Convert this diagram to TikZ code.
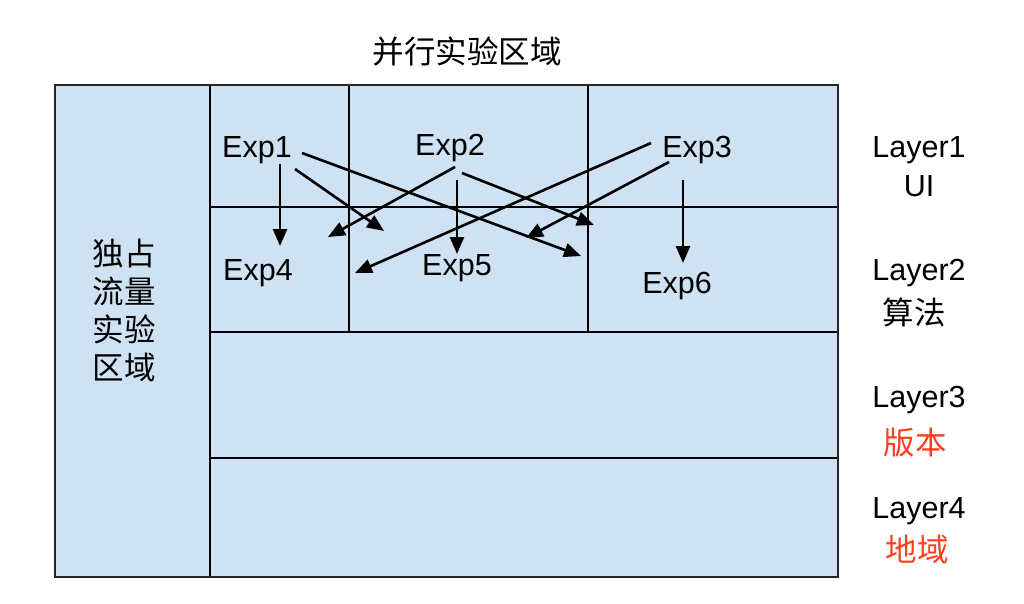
\documentclass[tikz,border=0pt]{standalone}
\usepackage{fontspec}
\setmainfont{Liberation Sans}
\newfontfamily\cjk{Noto Sans CJK SC}
\usetikzlibrary{arrows.meta}
\definecolor{cellblue}{RGB}{207,226,243}
\definecolor{tagred}{RGB}{255,62,30}
\begin{document}
\begin{tikzpicture}[x=1pt,y=-1pt,
  grid/.style={line width=2.6pt,draw=black},
  lbl/.style={inner sep=0pt,font=\fontsize{30.5}{36}\selectfont},
  zh/.style={inner sep=0pt,font=\cjk\fontsize{31.5}{38}\selectfont},
  arr/.style={line width=2.6pt,-{Triangle[length=17pt,width=14pt]}}]
\useasboundingbox (0,0) rectangle (1024,603);
% boxes
\fill[cellblue] (55,85) rectangle (838,577);
\draw[grid] (210,85) -- (210,577);
\draw[grid] (210,207) -- (838,207);
\draw[grid] (210,332) -- (838,332);
\draw[grid] (210,458) -- (838,458);
\draw[grid] (349,85) -- (349,332);
\draw[grid] (588,85) -- (588,332);
\draw[grid,draw=black!85] (55,85) rectangle (838,577);
% titles
\node[zh] (title) at (467,52) {并行实验区域};
\node[zh,align=center] (excl) at (124,311) {独占\\流量\\实验\\区域};
% layer labels
\node[lbl] (l1) at (919,150) {Layer1};
\node[lbl] (l1b) at (919,186) {UI};
\node[lbl] (l2) at (919,273) {Layer2};
\node[zh] (l2b) at (914,312) {算法};
\node[lbl] (l3) at (919,400) {Layer3};
\node[zh,text=tagred] (l3b) at (915,443) {版本};
\node[lbl] (l4) at (919,511) {Layer4};
\node[zh,text=tagred] (l4b) at (917,550) {地域};
% experiments
\node[lbl] (e1) at (257,150) {Exp1};
\node[lbl] (e2) at (450,148) {Exp2};
\node[lbl] (e3) at (697,150) {Exp3};
\node[lbl] (e4) at (258,273) {Exp4};
\node[lbl] (e5) at (457,268) {Exp5};
\node[lbl] (e6) at (677,286) {Exp6};
% arrow end points
\coordinate (e1a) at (280,164);
\coordinate (e1b) at (295,169);
\coordinate (e1c) at (302,153);
\coordinate (e2a) at (457,180);
\coordinate (e2b) at (455,167);
\coordinate (e2c) at (462,173);
\coordinate (e3a) at (651,143);
\coordinate (e3b) at (669,162);
\coordinate (e3c) at (683,180);
\coordinate (t1a) at (280,246);
\coordinate (t1b) at (384,231);
\coordinate (t1c) at (581,256);
\coordinate (t2a) at (457,254);
\coordinate (t2b) at (328,237);
\coordinate (t2c) at (594,225);
\coordinate (t3a) at (355,273);
\coordinate (t3b) at (526,238);
\coordinate (t3c) at (683,263);
% arrows
\draw[arr] (e1a) -- (t1a);
\draw[arr] (e1b) -- (t1b);
\draw[arr] (e1c) -- (t1c);
\draw[arr] (e2a) -- (t2a);
\draw[arr] (e2b) -- (t2b);
\draw[arr] (e2c) -- (t2c);
\draw[arr] (e3a) -- (t3a);
\draw[arr] (e3b) -- (t3b);
\draw[arr] (e3c) -- (t3c);
\end{tikzpicture}
\end{document}
